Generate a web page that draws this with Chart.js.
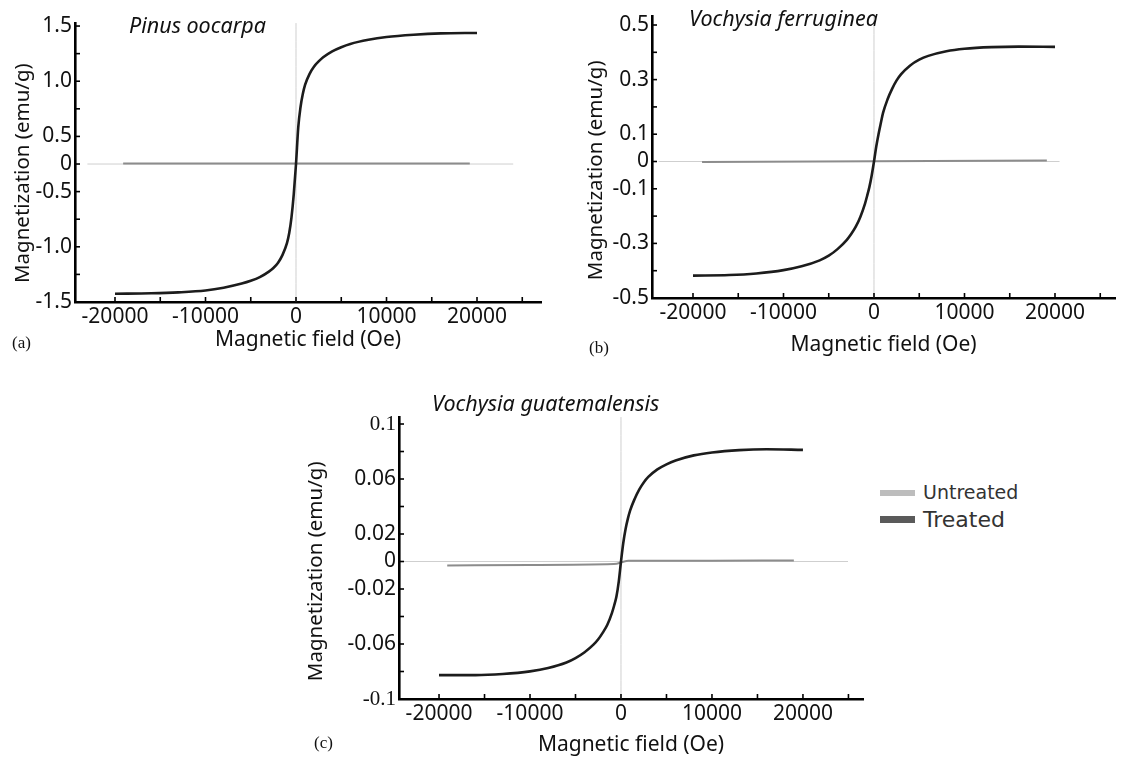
<!DOCTYPE html>
<html>
<head>
<meta charset="utf-8">
<script src="https://cdn.jsdelivr.net/npm/chart.js@4"></script>
<style>
  body { margin: 0; background: #fff; }
  #wrap { position: relative; width: 1121px; height: 758px; overflow: hidden; font-family: "Noto Sans", sans-serif; }
  canvas { position: absolute; }
  .species { position: absolute; font-style: italic; font-size: 21.5px; line-height: 22px; color: #111; white-space: nowrap; }
  .tag { position: absolute; font-family: "Liberation Serif", serif; font-size: 17px; line-height: 18px; color: #111; }
  .key { position: absolute; font-family: "DejaVu Sans", sans-serif; color: #333; white-space: nowrap; }
  .bar { position: absolute; width: 35px; }
</style>
</head>
<body>
<div id="wrap">
  <canvas id="chartA" width="560" height="365" style="left:0;top:0"></canvas>
  <canvas id="chartB" width="551" height="365" style="left:570px;top:0"></canvas>
  <canvas id="chartC" width="590" height="378" style="left:290px;top:380px"></canvas>

  <div class="species" style="left:129px;top:14px">Pinus oocarpa</div>
  <div class="species" style="left:689px;top:7px">Vochysia ferruginea</div>
  <div class="species" style="left:432px;top:392px">Vochysia guatemalensis</div>

  <div class="tag" style="left:12px;top:334px">(a)</div>
  <div class="tag" style="left:589px;top:339px">(b)</div>
  <div class="tag" style="left:314px;top:734px">(c)</div>

  <div class="bar" style="left:880px;top:490px;height:6px;background:#bdbdbd"></div>
  <div class="key" style="left:923px;top:481px;font-size:19px;line-height:22px">Untreated</div>
  <div class="bar" style="left:880px;top:516px;height:7px;background:#5a5a5a"></div>
  <div class="key" style="left:923px;top:507px;font-size:22px;line-height:26px">Treated</div>
</div>

<script>
// shared x axis ticks (Oe)
const xTicks = [-20000, -15000, -10000, -5000, 0, 5000, 10000, 15000, 20000, 25000];
const xTickLabels = ['-20000', '', '-10000', '', '0', '', '10000', '', '20000', ''];

// field values (Oe) where the treated curves were read
const fieldTreated = [-20000, -16000, -13000, -10000, -8000, -6000, -5000, -4000, -3000, -2500, -2000, -1500, -1000, -750, -500, -250,
    0, 250, 500, 750, 1000, 1500, 2000, 2500, 3000, 4000, 5000, 6000, 8000, 10000, 13000, 16000, 20000];

// (a) Pinus oocarpa
const treatedA = [-1.41, -1.405, -1.395, -1.375, -1.345, -1.30, -1.27, -1.23, -1.17, -1.13, -1.075, -0.99, -0.86, -0.75, -0.58, -0.33,
    0, 0.40, 0.62, 0.76, 0.86, 0.98, 1.06, 1.115, 1.16, 1.225, 1.27, 1.305, 1.35, 1.38, 1.405, 1.42, 1.425];
const fieldUntrA = [-19100, 0, 19200];
const untreatedA = [0.005, 0.005, 0.006];
const zeroLineA = [-23050, 24000];
const xRangeA = [-24420, 27070];
const yRangeA = [-1.5, 1.533];
const yTicksA = [1.5, 1.2, 0.9, 0.6, 0.3, 0, -0.3, -0.6, -0.9, -1.2, -1.5];
const yLabelsA = ['1.5', '', '1.0', '', '0.5', '0', '-0.5', '', '-1.0', '', '-1.5'];

// (b) Vochysia ferruginea
const treatedB = [-0.418, -0.416, -0.41, -0.398, -0.384, -0.362, -0.345, -0.32, -0.287, -0.265, -0.238, -0.202, -0.155, -0.125, -0.092, -0.05,
    0, 0.055, 0.1, 0.14, 0.178, 0.228, 0.266, 0.297, 0.32, 0.352, 0.373, 0.387, 0.404, 0.413, 0.419, 0.421, 0.42];
const fieldUntrB = [-19000, 0, 19100];
const untreatedB = [-0.002, 0.001, 0.004];
const zeroLineB = [-23800, 20500];
const xRangeB = [-24530, 26630];
const yRangeB = [-0.5, 0.533];
const yTicksB = [0.5, 0.4, 0.3, 0.2, 0.1, 0, -0.1, -0.2, -0.3, -0.4, -0.5];
const yLabelsB = ['0.5', '', '0.3', '', '0.1', '0', '-0.1', '', '-0.3', '', '-0.5'];

// (c) Vochysia guatemalensis
const treatedC = [-0.0826, -0.0826, -0.0818, -0.0799, -0.0775, -0.0735, -0.0703, -0.066, -0.0603, -0.0565, -0.0517, -0.046, -0.0375, -0.032, -0.0255, -0.0148,
    0, 0.0135, 0.0235, 0.031, 0.037, 0.0455, 0.0523, 0.0575, 0.0615, 0.067, 0.0707, 0.0735, 0.0772, 0.0793, 0.081, 0.0816, 0.0812];
const fieldUntrC = [-19100, -10000, -800, 800, 10000, 19000];
const untreatedC = [-0.0029, -0.0025, -0.0019, 0.0005, 0.0006, 0.0007];
const zeroLineC = [-24550, 24950];
const xRangeC = [-24400, 26600];
const yRangeC = [-0.1, 0.1051];
const yTicksC = [0.1, 0.08, 0.06, 0.04, 0.02, 0, -0.02, -0.04, -0.06, -0.08, -0.1];
const yLabelsC = ['0.1', '', '0.06', '', '0.02', '0', '-0.02', '', '-0.06', '', '-0.1'];

Chart.defaults.font.family = 'Noto Sans';
Chart.defaults.color = '#111';

const pts = (xs, ys) => xs.map((x, i) => ({ x: x, y: ys[i] }));

// short tick marks drawn inside the plot, like the original figure
const inwardTicks = {
    id: 'inwardTicks',
    afterDatasetsDraw(chart) {
        const { ctx, chartArea: a, scales } = chart;
        ctx.save();
        ctx.strokeStyle = '#000';
        ctx.lineWidth = 1.6;
        scales.x.ticks.forEach(t => {
            const px = scales.x.getPixelForValue(t.value);
            ctx.beginPath();
            ctx.moveTo(px, a.bottom);
            ctx.lineTo(px, a.bottom - 5);
            ctx.stroke();
        });
        scales.y.ticks.forEach(t => {
            const py = scales.y.getPixelForValue(t.value);
            ctx.beginPath();
            ctx.moveTo(a.left, py);
            ctx.lineTo(a.left + 5, py);
            ctx.stroke();
        });
        ctx.restore();
    }
};

function makePanel(id, p) {
    const tickFont = c => ({
        family: p.serifEnds && (c.index === 0 || c.index === p.yTicks.length - 1) ? 'Liberation Serif' : 'Noto Sans',
        size: 21
    });
    return new Chart(document.getElementById(id), {
        type: 'scatter',
        data: {
            datasets: [
                { data: pts(fieldTreated, p.treated), borderColor: '#1c1c1c', borderWidth: 2.6, order: 0 },
                { data: pts(p.fieldU, p.untreated), borderColor: '#8c8c8c', borderWidth: 2, order: 1 },
                { data: pts(p.zeroLine, [0, 0]), borderColor: '#cfcfcf', borderWidth: 1, order: 2 },
                { data: pts([0, 0], p.yRange), borderColor: '#cfcfcf', borderWidth: 1, order: 3 },
            ],
        },
        options: {
            responsive: false,
            devicePixelRatio: 1,
            animation: false,
            layout: { padding: { top: p.padTop, right: p.padRight, left: 0, bottom: 0 } },
            elements: {
                point: { radius: 0 },
                line: { cubicInterpolationMode: 'monotone', fill: false },
            },
            datasets: { scatter: { showLine: true } },
            plugins: { legend: { display: false }, tooltip: { enabled: false } },
            scales: {
                x: {
                    type: 'linear',
                    min: p.xRange[0],
                    max: p.xRange[1],
                    afterFit: s => { s.height = p.xAxisH; },
                    afterBuildTicks: s => { s.ticks = xTicks.map(v => ({ value: v })); },
                    ticks: {
                        autoSkip: false,
                        maxRotation: 0,
                        padding: 2,
                        font: { size: 21 },
                        callback: (v, i) => xTickLabels[i],
                    },
                    grid: { drawOnChartArea: false, drawTicks: false },
                    border: { display: true, color: '#000', width: 2.6 },
                    title: {
                        display: true,
                        text: 'Magnetic field (Oe)',
                        font: { size: 21 },
                        padding: { top: 0, bottom: p.xTitlePad },
                    },
                },
                y: {
                    type: 'linear',
                    min: p.yRange[0],
                    max: p.yRange[1],
                    afterFit: s => { s.width = p.yAxisW; },
                    afterBuildTicks: s => { s.ticks = p.yTicks.map(v => ({ value: v })); },
                    ticks: {
                        autoSkip: false,
                        padding: 3,
                        font: tickFont,
                        callback: (v, i) => p.yLabels[i],
                    },
                    grid: { drawOnChartArea: false, drawTicks: false },
                    border: { display: true, color: '#000', width: 2.6 },
                    title: {
                        display: true,
                        // trailing spaces push the title a little lower, as in the figure
                        text: 'Magnetization (emu/g)' + ' '.repeat(p.yTitleShift),
                        font: { size: 20.5 },
                        padding: { top: p.yTitlePad, bottom: 0 },
                    },
                },
            },
        },
        plugins: [inwardTicks],
    });
}

makePanel('chartA', {
    treated: treatedA, fieldU: fieldUntrA, untreated: untreatedA,
    zeroLine: zeroLineA, xRange: xRangeA, yRange: yRangeA, yTicks: yTicksA, yLabels: yLabelsA,
    padTop: 23, padRight: 19, yAxisW: 75, xAxisH: 63, yTitlePad: 11, xTitlePad: 12, yTitleShift: 4,
});

makePanel('chartB', {
    treated: treatedB, fieldU: fieldUntrB, untreated: untreatedB,
    zeroLine: zeroLineB, xRange: xRangeB, yRange: yRangeB, yTicks: yTicksB, yLabels: yLabelsB,
    padTop: 16, padRight: 6, yAxisW: 82, xAxisH: 67, yTitlePad: 14, xTitlePad: 7, yTitleShift: 5,
});

makePanel('chartC', {
    treated: treatedC, fieldU: fieldUntrC, untreated: untreatedC,
    zeroLine: zeroLineC, xRange: xRangeC, yRange: yRangeC, yTicks: yTicksC, yLabels: yLabelsC,
    padTop: 37, padRight: 17, yAxisW: 109, xAxisH: 59, yTitlePad: 14, xTitlePad: 0, serifEnds: true, yTitleShift: 5,
});
</script>
</body>
</html>
